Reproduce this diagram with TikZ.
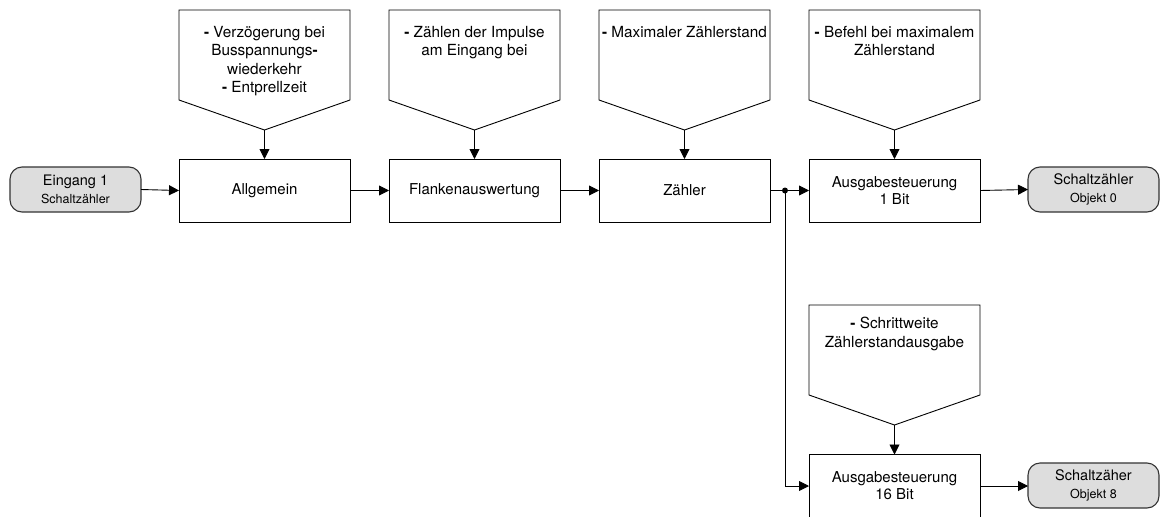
\documentclass[tikz,border=0pt]{standalone}
\usepackage{fontspec}
\setmainfont{TeX Gyre Heros}
\usetikzlibrary{arrows.meta}
\definecolor{termfill}{HTML}{DDDDDD}
\definecolor{termline}{HTML}{333333}
\newcommand\dsh{{\bfseries -}}
\newcommand\mkcallout[5]{%
  \draw[cbox] (#2-85.5,#3) -- (#2+85.5,#3) -- (#2+85.5,#3+90) -- (#2,#3+120) -- (#2-85.5,#3+90) -- cycle;
  \coordinate (#1) at (#2,#3+120);
  \node[ctext] (#1t) at (#2,#4) {#5};
}
\begin{document}
\begin{tikzpicture}[x=1pt,y=-1pt,
  every node/.style={font=\fontsize{14.5}{17.5}\selectfont, inner sep=0pt, outer sep=0pt},
  blk/.style={draw, line width=0.9pt, minimum width=171pt, minimum height=63pt, align=center, font=\fontsize{15}{17}\selectfont},
  term/.style={draw=termline, fill=termfill, line width=1.1pt, rounded corners=12pt, minimum width=131pt, minimum height=45pt, align=center},
  cbox/.style={draw, line width=0.9pt, line join=miter},
  ctext/.style={align=center, anchor=north, font=\fontsize{15.3}{18.6}\selectfont},
  conn/.style={line width=0.9pt, -{Triangle[length=10pt,width=10pt]}}]
\useasboundingbox (0,0) rectangle (1160,517);

% terminals
\node[term] (in) at (75.5,189.5) {Eingang 1\\\fontsize{12.5}{17.5}\selectfont Schaltzähler};
\node[term] (out0) at (1093.5,189.5) {Schaltzähler\\\fontsize{12.5}{17.5}\selectfont Objekt 0};
\node[term] (out8) at (1093.5,485.5) {Schaltzäher\\\fontsize{12.5}{17.5}\selectfont Objekt 8};

% blocks
\node[blk] (b1) at (264.5,190.5) {Allgemein};
\node[blk] (b2) at (474.5,190.5) {Flankenauswertung};
\node[blk] (b3) at (684.5,190.5) {Zähler};
\node[blk] (b4) at (894.5,190.5) {Ausgabesteuerung\\1 Bit};
\node[blk] (b5) at (894.5,486) {Ausgabesteuerung\\16 Bit};

% callouts
\mkcallout{c1}{264.5}{10}{26}{\dsh{} Verzögerung bei\\Busspannungs\dsh\\wiederkehr\\\dsh{} Entprellzeit}
\mkcallout{c2}{474.5}{10}{26}{\dsh{} Zählen der Impulse\\am Eingang bei}
\mkcallout{c3}{684.5}{10}{26}{\dsh{} Maximaler Zählerstand}
\mkcallout{c4}{894.5}{10}{26}{\dsh{} Befehl bei maximalem\\Zählerstand}
\mkcallout{c5}{894.5}{305}{317}{\dsh{} Schrittweite\\Zählerstandausgabe}

% connectors
\draw[conn] (in.east) -- (b1.west);
\draw[conn] (b1.east) -- (b2.west);
\draw[conn] (b2.east) -- (b3.west);
\coordinate (j) at (785,190.5);
\draw[line width=0.9pt] (b3.east) -- (j);
\draw[conn] (j) -- (b4.west);
\draw[conn] (j) |- (b5.west);
\fill (j) circle (3pt);
\draw[conn] (b4.east) -- (out0.west);
\draw[conn] (b5.east) -- (out8.west |- b5.east);

\draw[conn] (c1) -- (b1.north);
\draw[conn] (c2) -- (b2.north);
\draw[conn] (c3) -- (b3.north);
\draw[conn] (c4) -- (b4.north);
\draw[conn] (c5) -- (b5.north);
\end{tikzpicture}
\end{document}
